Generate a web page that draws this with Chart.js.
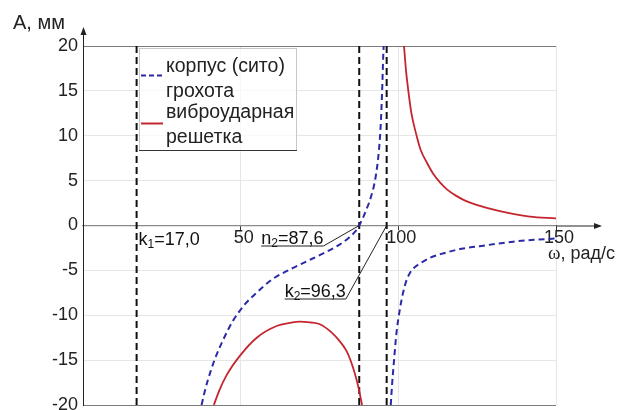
<!DOCTYPE html>
<html>
<head>
<meta charset="utf-8">
<script src="https://cdn.jsdelivr.net/npm/chart.js@4.4.0/dist/chart.umd.min.js"></script>
<style>
  html, body { margin: 0; padding: 0; background: #fff; }
</style>
</head>
<body>
<canvas id="chart" width="617" height="410"></canvas>
<script>
// корпус (сито) грохота — two branches
const corpusLeftW  = [37.6, 38.6, 39.7, 41.8, 44.5, 47.6, 51.3, 55.0, 60.0, 65.6, 70.9, 76.2, 81.5, 84.5, 86.5, 87.6, 89.9, 91.5, 92.8, 93.9, 94.5, 94.9, 95.2, 95.35];
const corpusLeftA  = [-20, -18.5, -17.1, -14.9, -12.7, -10.6, -8.8, -7.5, -6.0, -4.9, -4.0, -3.1, -2.1, -1.3, -0.6, 0, 1.8, 3.4, 5.4, 8.6, 11.8, 15.4, 18.8, 20];
const corpusRightW = [97.6, 98.0, 98.5, 99.4, 100.5, 101.5, 102.5, 103.5, 104.7, 107.0, 110.0, 115.3, 120.0, 125.8, 131.0, 136.4, 143.0, 150];
const corpusRightA = [-20, -17.8, -15.6, -12.0, -9.3, -7.5, -6.2, -5.4, -4.8, -4.2, -3.6, -3.0, -2.6, -2.3, -2.05, -1.8, -1.6, -1.45];

// виброударная решетка
const gridLeftW  = [41.5, 43.2, 45.5, 49.8, 55.1, 61.4, 65.6, 68.8, 72.0, 75.1, 78.8, 81.2, 83.6, 85.7, 87.2, 88.5];
const gridLeftA  = [-20, -18.4, -16.7, -14.5, -12.5, -11.2, -10.85, -10.7, -10.8, -11.0, -11.9, -12.8, -14.0, -15.9, -17.8, -20];
const gridRightW = [101.8, 102.4, 103.1, 104.2, 105.8, 107.0, 108.9, 111.0, 113.2, 115.5, 118.4, 121.0, 124.8, 132.2, 141.7, 150];
const gridRightA = [20, 17.4, 15.2, 12.4, 10.0, 8.5, 7.1, 5.8, 4.8, 4.0, 3.3, 2.8, 2.3, 1.6, 1.0, 0.8];

// resonance / antiresonance marks
const markW = [17.0, 87.6, 96.3];
const markName = ['k', 'n', 'k'];
const markSub = ['1', '2', '2'];
const markText = ['=17,0', '=87,6', '=96,3'];

const xTicks = [0, 50, 100, 150];
const yMin = -20, yMax = 20;

const legendLabels = [['корпус (сито)', 'грохота'], ['виброударная', 'решетка']];

const BLUE = '#2a2aa8';
const RED = '#c4262e';
const FONT = '"Liberation Sans", Arial, sans-serif';

function branches(w1, a1, w2, a2) {
    const pts = w1.map((w, i) => ({ x: w, y: a1[i] }));
    pts.push({ x: (w1[w1.length - 1] + w2[0]) / 2, y: null });
    return pts.concat(w2.map((w, i) => ({ x: w, y: a2[i] })));
}

const markSets = markW.map(w => ({
    data: [{ x: w, y: yMin }, { x: w, y: yMax }],
    borderColor: '#111',
    borderWidth: 2,
    borderDash: [7, 4],
    pointRadius: 0
}));

function drawSub(ctx, x, y, name, sub, rest) {
    ctx.font = '18px ' + FONT;
    ctx.fillText(name, x, y);
    x += ctx.measureText(name).width;
    ctx.font = '12px ' + FONT;
    ctx.fillText(sub, x, y + 3);
    x += ctx.measureText(sub).width;
    ctx.font = '18px ' + FONT;
    ctx.fillText(rest, x, y);
    return x + ctx.measureText(rest).width;
}

const extras = {
    id: 'extras',
    afterDraw(chart) {
        const ctx = chart.ctx;
        const xs = chart.scales.x, ys = chart.scales.y;
        const x0 = xs.getPixelForValue(0), y0 = ys.getPixelForValue(0);
        const top = ys.getPixelForValue(yMax), right = xs.getPixelForValue(150);
        ctx.save();

        // axis arrows
        ctx.strokeStyle = '#222';
        ctx.fillStyle = '#222';
        ctx.lineWidth = 1;
        ctx.beginPath();
        ctx.moveTo(x0 + 0.5, top); ctx.lineTo(x0 + 0.5, 30);
        ctx.moveTo(right, y0 + 0.5); ctx.lineTo(598, y0 + 0.5);
        ctx.stroke();
        ctx.beginPath();
        ctx.moveTo(x0 + 0.5, 27); ctx.lineTo(x0 - 2.5, 35); ctx.lineTo(x0 + 3.5, 35); ctx.closePath();
        ctx.moveTo(602, y0 + 0.5); ctx.lineTo(594, y0 - 2.5); ctx.lineTo(594, y0 + 3.5); ctx.closePath();
        ctx.fill();

        // axis titles
        ctx.fillStyle = '#222';
        ctx.textBaseline = 'alphabetic';
        ctx.textAlign = 'left';
        ctx.font = '20px ' + FONT;
        ctx.fillText('A, мм', 13, 29);
        ctx.font = '18px ' + FONT;
        const restW = ctx.measureText(', рад/с').width;
        ctx.fillText(', рад/с', 615 - restW, 259);
        ctx.font = '19px "Liberation Serif", serif';
        const wW = ctx.measureText('ω').width;
        ctx.fillText('ω', 615 - restW - wW, 259);

        // legend
        const lx = x0 + 56, ly = top + 2;
        ctx.fillStyle = 'rgba(255,255,255,0.7)';
        ctx.fillRect(lx, ly, 157, 102);
        ctx.strokeStyle = '#c8c8c8';
        ctx.strokeRect(lx + 0.5, ly + 0.5, 157, 102);
        ctx.strokeStyle = '#333';
        ctx.beginPath();
        ctx.moveTo(lx, ly + 102.5); ctx.lineTo(lx + 158, ly + 102.5);
        ctx.stroke();
        ctx.lineWidth = 2;
        ctx.setLineDash([5, 3]);
        ctx.strokeStyle = BLUE;
        ctx.beginPath(); ctx.moveTo(lx + 2, ly + 27.5); ctx.lineTo(lx + 24, ly + 27.5); ctx.stroke();
        ctx.setLineDash([]);
        ctx.strokeStyle = RED;
        ctx.beginPath(); ctx.moveTo(lx + 2, ly + 75.5); ctx.lineTo(lx + 24, ly + 75.5); ctx.stroke();
        ctx.fillStyle = '#222';
        ctx.textBaseline = 'middle';
        ctx.font = '19.5px ' + FONT;
        legendLabels.forEach((pair, i) => {
            ctx.fillText(pair[0], lx + 27, ly + 19 + i * 46);
            ctx.fillText(pair[1], lx + 27, ly + 44 + i * 46);
        });

        // resonance labels
        ctx.textBaseline = 'alphabetic';
        ctx.fillStyle = '#111';
        ctx.strokeStyle = '#222';
        ctx.lineWidth = 1;
        const mx = markW.map(w => xs.getPixelForValue(w));
        drawSub(ctx, mx[0] + 2, y0 + 19, markName[0], markSub[0], markText[0]);

        const n2x = mx[1] - 98;
        const n2end = drawSub(ctx, n2x, y0 + 18, markName[1], markSub[1], markText[1]);
        ctx.beginPath();
        ctx.moveTo(n2x, y0 + 20.5); ctx.lineTo(n2end, y0 + 20.5); ctx.lineTo(mx[1], y0);
        ctx.stroke();

        const k2x = mx[2] - 102;
        const k2end = drawSub(ctx, k2x, y0 + 71, markName[2], markSub[2], markText[2]);
        ctx.beginPath();
        ctx.moveTo(k2x, y0 + 73.5); ctx.lineTo(k2end, y0 + 73.5); ctx.lineTo(mx[2], y0);
        ctx.stroke();

        ctx.restore();
    }
};

new Chart(document.getElementById('chart'), {
    type: 'line',
    data: {
        datasets: [
            {
                label: 'корпус (сито) грохота',
                data: branches(corpusLeftW, corpusLeftA, corpusRightW, corpusRightA),
                borderColor: BLUE,
                borderWidth: 2,
                borderDash: [6, 4],
                pointRadius: 0,
                cubicInterpolationMode: 'monotone',
                spanGaps: false
            },
            {
                label: 'виброударная решетка',
                data: branches(gridLeftW, gridLeftA, gridRightW, gridRightA),
                borderColor: RED,
                borderWidth: 1.8,
                pointRadius: 0,
                cubicInterpolationMode: 'monotone',
                spanGaps: false
            },
            ...markSets
        ]
    },
    options: {
        responsive: false,
        animation: false,
        layout: { padding: { top: 46, right: 61, bottom: 5, left: 0 } },
        plugins: { legend: { display: false }, tooltip: { enabled: false } },
        scales: {
            x: {
                type: 'linear',
                min: 0,
                max: 150,
                position: { y: 0 },
                afterBuildTicks: s => { s.ticks = xTicks.map(v => ({ value: v })); },
                afterFit: s => { s.paddingLeft = 0; s.paddingRight = 0; },
                ticks: {
                    callback: v => (v === 0 ? '' : v),
                    color: '#222',
                    font: { family: FONT, size: 18, lineHeight: 1 },
                    padding: 0,
                    labelOffset: 3,
                    maxRotation: 0
                },
                grid: { color: '#e6e6e6', tickColor: '#333', tickLength: 4 },
                border: { color: '#8a8a8a', width: 1.2 }
            },
            y: {
                type: 'linear',
                min: yMin,
                max: yMax,
                ticks: {
                    stepSize: 5,
                    color: '#222',
                    font: { family: FONT, size: 18 },
                    padding: 5
                },
                afterFit: s => { s.width = 83; s.paddingTop = 0; s.paddingBottom = 0; },
                grid: {
                    drawTicks: false,
                    color: c => (c.tick && Math.abs(c.tick.value) === 20 ? '#7a7a7a' : '#e6e6e6')
                },
                border: { color: '#222', width: 1 }
            }
        }
    },
    plugins: [extras]
});
</script>
</body>
</html>
